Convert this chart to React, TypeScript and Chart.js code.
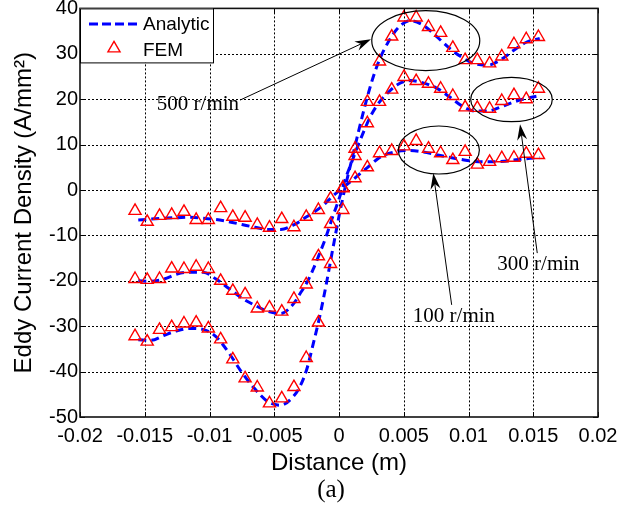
import React, { useEffect, useRef } from 'react';
import { Chart, registerables } from 'chart.js';

Chart.register(...registerables);

// ---------- data ----------
const femX = [-0.01575, -0.01481, -0.01386, -0.01292, -0.01197, -0.01103, -0.01009, -0.00914, -0.0082, -0.00725, -0.00631, -0.00537, -0.00442, -0.00348, -0.00253, -0.00159, -0.00065, 0.0003, 0.00124, 0.00219, 0.00313, 0.00407, 0.00502, 0.00596, 0.00691, 0.00785, 0.00879, 0.00974, 0.01068, 0.01163, 0.01257, 0.01351, 0.01446, 0.0154];
const fem100 = [-4.6, -7.0, -5.7, -5.5, -4.8, -6.6, -6.6, -4.0, -5.9, -6.1, -7.7, -8.3, -6.4, -8.2, -5.9, -4.4, -1.9, 0.4, 2.6, 5.0, 8.1, 8.6, 9.6, 10.8, 9.1, 8.1, 6.6, 8.4, 5.6, 6.2, 7.0, 7.1, 8.0, 7.7];
const fem300 = [-19.6, -19.8, -19.6, -17.3, -17.4, -16.9, -17.4, -20.0, -22.2, -23.0, -26.1, -25.9, -26.8, -24.0, -20.8, -14.6, -7.5, 0.5, 7.5, 14.7, 19.4, 22.1, 24.9, 24.0, 23.4, 22.3, 20.7, 18.2, 18.1, 17.9, 19.6, 20.9, 20.0, 22.3];
const fem500 = [-32.2, -33.4, -30.8, -30.2, -29.4, -29.2, -30.5, -32.9, -37.3, -41.5, -43.5, -47.0, -45.9, -43.4, -37.0, -29.2, -16.3, -4.4, 9.1, 19.4, 28.3, 33.8, 38.0, 38.0, 35.9, 34.6, 31.3, 28.6, 28.6, 27.9, 29.4, 32.1, 33.2, 33.7];

const anaX = [-0.0155, -0.0145, -0.0135, -0.0125, -0.0115, -0.0105, -0.0095, -0.0085, -0.0075, -0.0065, -0.0055, -0.0045, -0.0035, -0.003, -0.0025, -0.002, -0.0015, -0.001, -0.0005, 0, 0.0005, 0.001, 0.0015, 0.002, 0.0025, 0.003, 0.0035, 0.0045, 0.0055, 0.0065, 0.0075, 0.0085, 0.0095, 0.0105, 0.0115, 0.0125, 0.0135, 0.0145, 0.0155];
const ana100 = [-6.6, -6.4, -6.2, -6.1, -6.0, -6.2, -6.5, -7.0, -7.6, -8.2, -8.7, -8.7, -7.7, -6.9, -5.9, -5.0, -4.0, -2.8, -1.4, -0.2, 1.0, 2.1, 3.3, 4.5, 5.7, 6.9, 7.7, 8.5, 8.7, 8.4, 7.8, 7.2, 6.7, 6.3, 6.2, 6.3, 6.6, 6.9, 7.1];
const ana300 = [-20.0, -20.1, -19.6, -18.5, -18.1, -18.1, -19.6, -21.7, -23.8, -25.4, -26.7, -27.2, -25.0, -22.8, -20.5, -17.5, -14.0, -10.3, -6.0, -2.0, 2.5, 6.3, 10.0, 13.5, 16.6, 18.9, 20.6, 23.2, 24.1, 23.6, 22.5, 20.6, 18.5, 17.4, 17.4, 18.3, 19.4, 20.2, 20.8];
const ana500 = [-33.0, -33.1, -32.0, -31.0, -30.5, -30.7, -32.3, -35.9, -40.2, -43.8, -46.6, -47.4, -45.4, -43.2, -39.6, -34.0, -28.0, -21.0, -13.3, -5.8, 0.9, 6.8, 12.8, 18.5, 23.6, 27.8, 31.0, 35.5, 37.3, 36.3, 33.9, 31.3, 29.2, 27.8, 27.5, 28.7, 30.8, 32.6, 33.4];

const xTickValues = [-0.02, -0.015, -0.01, -0.005, 0, 0.005, 0.01, 0.015, 0.02];
const xTickLabels = ['-0.02', '-0.015', '-0.01', '-0.005', '0', '0.005', '0.01', '0.015', '0.02'];
const yTickValues = [-50, -40, -30, -20, -10, 0, 10, 20, 30, 40];
const yTickLabels = ['-50', '-40', '-30', '-20', '-10', '0', '10', '20', '30', '40'];

// annotations (data coordinates)
const noteLabels = ['500 r/min', '300 r/min', '100 r/min'];
const noteLabelX = [-0.01089, 0.0154, 0.00888];
const noteLabelY = [18.8, -16.5, -27.75];
const ellipseCX = [0.0067, 0.01332, 0.00771];
const ellipseCY = [32.9, 19.93, 8.81];
const ellipseRX = [0.00417, 0.00315, 0.00313];
const ellipseRY = [6.6, 4.89, 5.29];
const arrowFromX = [-0.00764, 0.01531, 0.0087];
const arrowFromY = [19.8, -13.9, -25.3];
const arrowToX = [0.00247, 0.01398, 0.00728];
const arrowToY = [33.2, 14.5, 3.7];

const SANS = "'Liberation Sans', Arial, Helvetica, sans-serif";
const SERIF = "'Liberation Serif', 'Times New Roman', serif";
const BLUE = '#0000ff';
const RED = '#ff0000';

const pts = (xs: number[], ys: number[]) => xs.map((x, i) => ({ x, y: ys[i] }));

function drawArrow(ctx: CanvasRenderingContext2D, x1: number, y1: number, x2: number, y2: number) {
  const ang = Math.atan2(y2 - y1, x2 - x1);
  const L = 16, W = 5, notch = 5;
  const c = Math.cos(ang), s = Math.sin(ang);
  const mx = x2 - c * (L - notch), my = y2 - s * (L - notch);
  ctx.beginPath();
  ctx.moveTo(x1, y1);
  ctx.lineTo(mx, my);
  ctx.stroke();
  const bx = x2 - c * L, by = y2 - s * L;
  const nx = -s, ny = c;
  ctx.beginPath();
  ctx.moveTo(x2, y2);
  ctx.lineTo(bx + nx * W, by + ny * W);
  ctx.lineTo(mx, my);
  ctx.lineTo(bx - nx * W, by - ny * W);
  ctx.closePath();
  ctx.fill();
}

const decor = {
  id: 'matlabDecor',
  beforeDatasetsDraw(chart: any) {
    const { ctx, chartArea: a, scales } = chart;
    const xs = scales.x, ys = scales.y;
    ctx.save();
    ctx.strokeStyle = '#000';
    ctx.lineWidth = 1;
    ctx.setLineDash([2, 2]);
    for (const v of xTickValues) {
      const p = Math.round(xs.getPixelForValue(v)) + 0.5;
      if (p < a.left + 2 || p > a.right - 2) continue;
      ctx.beginPath(); ctx.moveTo(p, a.top); ctx.lineTo(p, a.bottom); ctx.stroke();
    }
    for (const v of yTickValues) {
      const p = Math.round(ys.getPixelForValue(v)) + 0.5;
      if (p < a.top + 2 || p > a.bottom - 2) continue;
      ctx.beginPath(); ctx.moveTo(a.left, p); ctx.lineTo(a.right, p); ctx.stroke();
    }
    ctx.restore();
  },
  afterDatasetsDraw(chart: any) {
    const { ctx, chartArea: a, scales } = chart;
    const xs = scales.x, ys = scales.y;
    ctx.save();
    ctx.strokeStyle = '#000';
    ctx.lineWidth = 1;
    ctx.setLineDash([]);
    const tl = 5;
    for (const v of xTickValues) {
      const p = Math.round(xs.getPixelForValue(v)) + 0.5;
      ctx.beginPath();
      ctx.moveTo(p, a.bottom); ctx.lineTo(p, a.bottom - tl);
      ctx.moveTo(p, a.top); ctx.lineTo(p, a.top + tl);
      ctx.stroke();
    }
    for (const v of yTickValues) {
      const p = Math.round(ys.getPixelForValue(v)) + 0.5;
      ctx.beginPath();
      ctx.moveTo(a.left, p); ctx.lineTo(a.left + tl, p);
      ctx.moveTo(a.right, p); ctx.lineTo(a.right - tl, p);
      ctx.stroke();
    }
    ctx.lineWidth = 1.6;
    ctx.strokeStyle = '#111';
    ctx.strokeRect(a.left, a.top, a.right - a.left, a.bottom - a.top);

    ctx.lineWidth = 1.2;
    ctx.strokeStyle = '#000';
    for (let i = 0; i < ellipseCX.length; i++) {
      const cx = xs.getPixelForValue(ellipseCX[i]);
      const cy = ys.getPixelForValue(ellipseCY[i]);
      const rx = Math.abs(xs.getPixelForValue(ellipseCX[i] + ellipseRX[i]) - cx);
      const ry = Math.abs(ys.getPixelForValue(ellipseCY[i] + ellipseRY[i]) - cy);
      ctx.beginPath();
      ctx.ellipse(cx, cy, rx, ry, 0, 0, Math.PI * 2);
      ctx.stroke();
    }
    ctx.lineWidth = 1;
    ctx.fillStyle = '#000';
    for (let i = 0; i < arrowFromX.length; i++) {
      drawArrow(ctx,
        xs.getPixelForValue(arrowFromX[i]), ys.getPixelForValue(arrowFromY[i]),
        xs.getPixelForValue(arrowToX[i]), ys.getPixelForValue(arrowToY[i]));
    }
    ctx.font = `21px ${SERIF}`;
    ctx.textAlign = 'center';
    ctx.textBaseline = 'middle';
    ctx.fillStyle = '#000';
    for (let i = 0; i < noteLabels.length; i++) {
      ctx.fillText(noteLabels[i], xs.getPixelForValue(noteLabelX[i]), ys.getPixelForValue(noteLabelY[i]));
    }

    const lx = a.left, ly = a.top, lw = 133, lh = 54;
    ctx.fillStyle = '#fff';
    ctx.fillRect(lx, ly, lw, lh);
    ctx.lineWidth = 1;
    ctx.strokeStyle = '#000';
    ctx.strokeRect(lx + 0.5, ly + 0.5, lw, lh);
    const d = chart.data.datasets;
    const ana = d.find((s: any) => s.label === 'Analytic');
    const fem = d.find((s: any) => s.label === 'FEM');
    ctx.strokeStyle = ana.borderColor;
    ctx.lineWidth = 3;
    ctx.setLineDash([9, 4]);
    ctx.beginPath();
    ctx.moveTo(lx + 9, ly + 15.5);
    ctx.lineTo(lx + 57, ly + 15.5);
    ctx.stroke();
    ctx.setLineDash([]);
    const tx = lx + 34, ty = ly + 40, r = 7;
    ctx.strokeStyle = fem.borderColor;
    ctx.lineWidth = 1.4;
    ctx.beginPath();
    ctx.moveTo(tx, ty - r);
    ctx.lineTo(tx + r * Math.sin(Math.PI / 3), ty + r / 2);
    ctx.lineTo(tx - r * Math.sin(Math.PI / 3), ty + r / 2);
    ctx.closePath();
    ctx.stroke();
    ctx.fillStyle = '#000';
    ctx.font = `19px ${SANS}`;
    ctx.textAlign = 'left';
    ctx.textBaseline = 'middle';
    ctx.fillText('Analytic', lx + 63, ly + 16);
    ctx.fillText('FEM', lx + 63, ly + 42);

    ctx.font = `25px ${SERIF}`;
    ctx.textAlign = 'center';
    ctx.fillText('(a)', 331, 490);
    ctx.restore();
  },
};

export default function App() {
  const ref = useRef<HTMLCanvasElement>(null);
  useEffect(() => {
    if (!ref.current) return;
    const femStyle = {
      label: 'FEM',
      showLine: false,
      borderColor: RED,
      backgroundColor: 'transparent',
      pointStyle: 'triangle',
      pointRadius: 7,
      pointBorderWidth: 1.4,
      pointBorderColor: RED,
      pointBackgroundColor: 'transparent',
      order: 0,
    };
    const anaStyle = {
      label: 'Analytic',
      showLine: true,
      borderColor: BLUE,
      borderWidth: 3,
      borderDash: [8, 5],
      borderCapStyle: 'butt',
      pointRadius: 0,
      fill: false,
      cubicInterpolationMode: 'monotone',
      order: 1,
    };
    const chart = new Chart(ref.current, {
      type: 'scatter',
      data: {
        datasets: [
          { ...femStyle, data: pts(femX, fem100) },
          { ...femStyle, data: pts(femX, fem300) },
          { ...femStyle, data: pts(femX, fem500) },
          { ...anaStyle, data: pts(anaX, ana100) },
          { ...anaStyle, data: pts(anaX, ana300) },
          { ...anaStyle, data: pts(anaX, ana500) },
        ] as any,
      },
      options: {
        responsive: false,
        animation: false,
        devicePixelRatio: 1,
        layout: { padding: { left: 0, top: 8, right: 36, bottom: 0 } },
        plugins: { legend: { display: false }, tooltip: { enabled: false } },
        scales: {
          x: {
            type: 'linear',
            min: -0.02,
            max: 0.02,
            grid: { display: false, drawTicks: false },
            border: { display: false },
            afterBuildTicks: (s: any) => { s.ticks = xTickValues.map((v) => ({ value: v })); },
            afterFit: (s: any) => { s.height = 94; s.paddingLeft = 0; s.paddingRight = 0; },
            ticks: {
              autoSkip: false,
              maxRotation: 0,
              padding: 7,
              color: '#000',
              font: { family: SANS, size: 20 },
              callback: (_v: any, i: number) => xTickLabels[i],
            },
            title: {
              display: true,
              text: 'Distance (m)',
              color: '#000',
              font: { family: SANS, size: 24 },
              padding: { top: 0, bottom: 33 },
            },
          },
          y: {
            type: 'linear',
            min: -50,
            max: 40,
            grid: { display: false, drawTicks: false },
            border: { display: false },
            afterBuildTicks: (s: any) => { s.ticks = yTickValues.map((v) => ({ value: v })); },
            afterFit: (s: any) => { s.width = 80; s.paddingTop = 0; s.paddingBottom = 0; },
            ticks: {
              autoSkip: false,
              padding: 2,
              color: '#000',
              font: { family: SANS, size: 20 },
              callback: (_v: any, i: number) => yTickLabels[i],
            },
            title: {
              display: true,
              text: 'Eddy Current Density (A/mm²)',
              color: '#000',
              font: { family: SANS, size: 24 },
              padding: { top: 10, bottom: 0 },
            },
          },
        },
      } as any,
      plugins: [decor],
    });
    return () => chart.destroy();
  }, []);
  return (
    <div style={{ position: 'absolute', left: 0, top: 0, width: 634, height: 511, background: '#fff' }}>
      <canvas ref={ref} width={634} height={511} style={{ display: 'block', width: 634, height: 511 }} />
    </div>
  );
}
